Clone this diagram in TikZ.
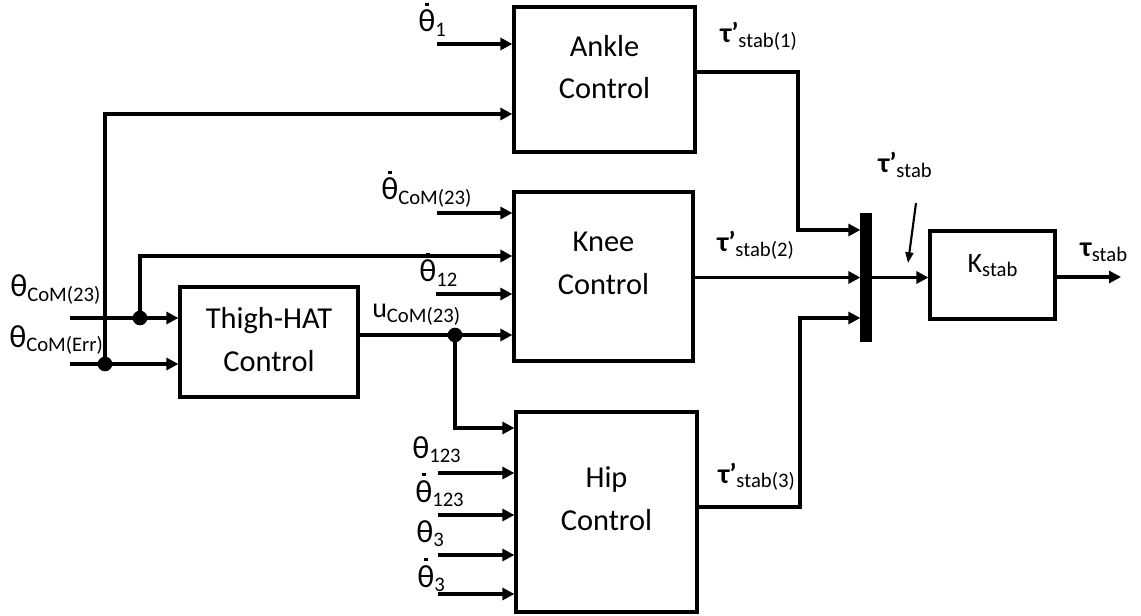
\documentclass[tikz,border=0pt]{standalone}
\usepackage{fontspec}
\setmainfont{Carlito}
\usetikzlibrary{arrows.meta}

\newcommand\sub[1]{\raisebox{-3.5pt}{\fontsize{15.5}{15.5}\selectfont #1}}
\newcommand\tht{{\fontsize{24}{24}\selectfont θ}}
\newcommand\thd{{\ooalign{\tht\cr\hidewidth\raisebox{19.5pt}{\rule{2.6pt}{2.6pt}}\hidewidth\cr}}}
\newcommand\tp{\textbf{τ’}}

\begin{document}
\begin{tikzpicture}[
  x=0.75pt,y=-0.75pt,
  wire/.style={line width=2.4pt,-{Triangle[length=9pt,width=9pt]}},
  blk/.style 2 args={draw,line width=2.4pt,inner sep=0pt,
    minimum width=#1*0.75pt,minimum height=#2*0.75pt},
  txt/.style={font=\fontsize{22.8}{32}\selectfont,align=center},
  note/.style={font=\fontsize{21}{22}\selectfont,anchor=base west,inner sep=0pt},
  dot/.style={circle,fill,inner sep=0pt,minimum size=11pt}]
  \useasboundingbox (0,0) rectangle (1141,616);

  % blocks
  \node[blk={181}{145},label={[txt,yshift=9.4pt]center:Ankle\\Control}] (ankle) at (604.5,79.5) {};
  \node[blk={179}{169},label={[txt,yshift=10pt]center:Knee\\Control}] (knee) at (603.5,276.5) {};
  \node[blk={181}{200},label={[txt,yshift=10pt]center:Hip\\Control}] (hip) at (606.5,512) {};
  \node[blk={178}{110},label={[txt,yshift=2pt]center:Thigh-HAT\\Control}] (thigh) at (269,342) {};
  \node[blk={125}{88},label={[note,font=\fontsize{21}{22}\selectfont,anchor=center,yshift=7pt]center:K\sub{stab}}] (kstab) at (992.5,275) {};
  \node[blk={8}{125},fill] (bar) at (866,277.5) {};

  % inputs of Thigh-HAT
  \coordinate (inA) at (70,318);
  \coordinate (inB) at (70,364);
  \node[dot] (jA) at (140,318) {};
  \node[dot] (jB) at (105,364) {};
  \draw[wire] (inA) -- (thigh.west |- inA);
  \draw[wire] (inB) -- (thigh.west |- inB);
  \coordinate (upB) at (105,114);
  \draw[wire] (jB.center) -- (upB) -- (ankle.west |- upB);
  \coordinate (upA) at (140,256);
  \draw[wire] (jA.center) -- (upA) -- (knee.west |- upA);

  % other inputs
  \coordinate (in1) at (437,44);
  \draw[wire] (in1) -- (ankle.west |- in1);
  \coordinate (in2) at (437,213);
  \draw[wire] (in2) -- (knee.west |- in2);
  \coordinate (in3) at (436,294);
  \draw[wire] (in3) -- (knee.west |- in3);
  \foreach \y [count=\i] in {473,515,555,594}
    \draw[wire] (438,\y) coordinate (h\i) -- (hip.west |- h\i);

  % u_CoM(23)
  \node[dot] (jU) at (455,335) {};
  \draw[wire] (thigh.east |- jU) -- (knee.west |- jU);
  \coordinate (dn) at (455,428);
  \draw[wire] (jU.center) -- (dn) -- (hip.west |- dn);

  % outputs to the bar
  \coordinate (oA) at (798,72);
  \coordinate (oA2) at (798,230);
  \draw[wire] (ankle.east |- oA) -- (oA) -- (oA2) -- (bar.west |- oA2);
  \draw[wire] (knee.east |- bar.west) -- (bar.west);
  \coordinate (oH) at (800,507);
  \coordinate (oH2) at (800,318);
  \draw[wire] (hip.east |- oH) -- (oH) -- (oH2) -- (bar.west |- oH2);
  \draw[wire] (bar.east) -- (kstab.west |- bar.east);
  \coordinate (out) at (1121,277);
  \draw[wire] (kstab.east |- out) -- (out);
  \coordinate (pA) at (916,203);
  \coordinate (pB) at (908,263);
  \draw[line width=1.6pt,-{Triangle[length=8pt,width=6pt]}] (pA) -- (pB);

  % labels
  \node[note] (lA) at (10,297) {\tht\sub{CoM(23)}};
  \node[note] (lB) at (9,347) {\tht\sub{CoM(Err)}};
  \node[note] (l1) at (418,32) {\thd\sub{1}};
  \node[note] (l2) at (381,200) {\thd\sub{CoM(23)}};
  \node[note] (l3) at (419,282) {\thd\sub{12}};
  \node[note] (lu) at (372,318) {u\sub{CoM(23)}};
  \node[note] (l4) at (412,458) {\tht\sub{123}};
  \node[note] (l5) at (415,502) {\thd\sub{123}};
  \node[note] (l6) at (416,542) {\tht\sub{3}};
  \node[note] (l7) at (417,587) {\thd\sub{3}};
  \node[note] (t1) at (720,43) {\tp\sub{stab(1)}};
  \node[note] (t2) at (717,252) {\tp\sub{stab(2)}};
  \node[note] (t3) at (718,483) {\tp\sub{stab(3)}};
  \node[note] (ts) at (878,173) {\tp\sub{stab}};
  \node[note] (to) at (1080,257) {\textbf{τ}\sub{stab}};
\end{tikzpicture}
\end{document}
